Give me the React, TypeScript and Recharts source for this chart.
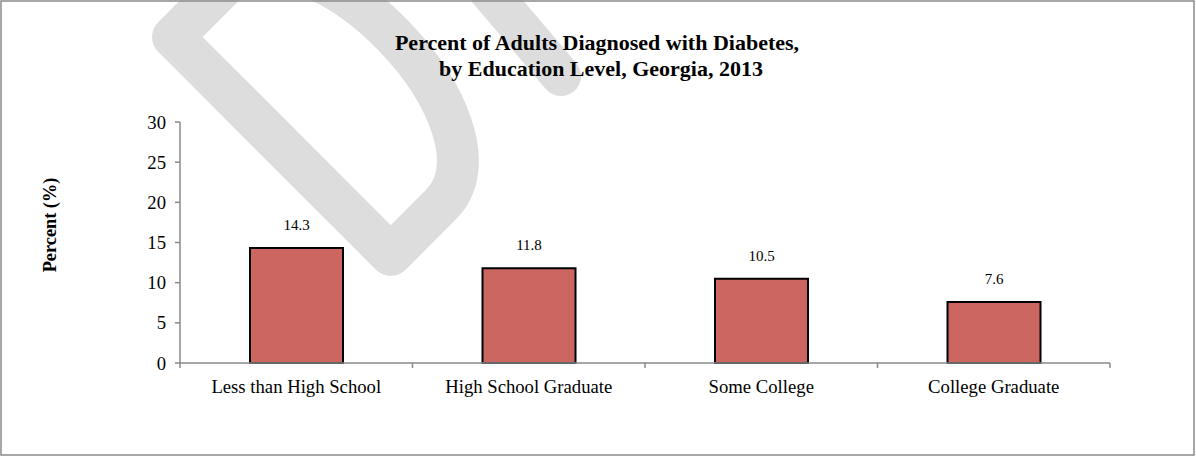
import React from "react";
import { BarChart, Bar, XAxis, YAxis, LabelList } from "recharts";

const categories = [
  "Less than High School",
  "High School Graduate",
  "Some College",
  "College Graduate",
];
const values = [14.3, 11.8, 10.5, 7.6];
const yTicks = [0, 5, 10, 15, 20, 25, 30];
const titleLines = [
  "Percent of Adults Diagnosed with Diabetes,",
  "by Education Level, Georgia, 2013",
];
const yLabel = "Percent (%)";

const data = categories.map((c, i) => ({ category: c, pos: i + 0.5, value: values[i] }));
const xTicks = [0, ...categories.flatMap((_, i) => [i + 0.5, i + 1])];

const FONT = "'Liberation Serif', 'Times New Roman', Times, serif";
const AXIS = "#8a8a8a";

const XTick = (props: any) => {
  const { x, y, payload } = props;
  const v = payload.value;
  if (Number.isInteger(v)) {
    return <line x1={x} y1={y} x2={x} y2={y + 5} stroke={AXIS} strokeWidth={1.5} />;
  }
  const label = categories[Math.floor(v)];
  return (
    <text x={x} y={y + 30} textAnchor="middle" fontFamily={FONT} fontSize={18.7} fill="#000">
      {label}
    </text>
  );
};

export default function App() {
  const W = 1196;
  const H = 457;
  return (
    <div style={{ position: "absolute", left: 0, top: 0, width: W, height: H, background: "#fff" }}>
      <svg width={W} height={H} style={{ position: "absolute", left: 0, top: 0 }}>
        <path
          d="M 390.8 254.8 L 173 37 L 222.5 -12.5 C 307.4 -97.4 520 127.5 440.3 205.3 Z"
          fill="none"
          stroke="#dddddd"
          strokeWidth={42}
          strokeLinejoin="round"
        />
        <line x1={488} y1={-10} x2={561} y2={76} stroke="#dddddd" strokeWidth={40} strokeLinecap="round" />
      </svg>
      <div style={{ position: "absolute", left: 0, top: 0 }}>
        <BarChart width={W} height={H} data={data} margin={{ top: 122, right: 86, bottom: 64, left: 120 }}>
          <XAxis
            dataKey="pos"
            type="number"
            domain={[0, categories.length]}
            ticks={xTicks}
            interval={0}
            height={30}
            axisLine={{ stroke: AXIS, strokeWidth: 1.5 }}
            tickLine={false}
            tickSize={0}
            tickMargin={0}
            tick={<XTick />}
          />
          <YAxis
            domain={[0, 30]}
            ticks={yTicks}
            interval={0}
            width={60}
            axisLine={{ stroke: AXIS, strokeWidth: 1.5 }}
            tickLine={{ stroke: AXIS, strokeWidth: 1.5 }}
            tickSize={5}
            tickMargin={9}
            tick={{ fontFamily: FONT, fontSize: 18.7, fill: "#000" }}
          />
          <Bar dataKey="value" fill="#cc6660" stroke="#000" strokeWidth={2} barSize={93} isAnimationActive={false}>
            <LabelList
              dataKey="value"
              position="top"
              offset={18}
              style={{ fontFamily: FONT, fontSize: 15, fill: "#000" }}
            />
          </Bar>
        </BarChart>
      </div>
      <svg width={W} height={H} style={{ position: "absolute", left: 0, top: 0, pointerEvents: "none" }}>
        <text x={597} y={50} textAnchor="middle" fontFamily={FONT} fontWeight="bold" fontSize={22} fill="#000">
          {titleLines[0]}
        </text>
        <text x={601} y={76} textAnchor="middle" fontFamily={FONT} fontWeight="bold" fontSize={22} fill="#000">
          {titleLines[1]}
        </text>
        <text
          x={56}
          y={225}
          textAnchor="middle"
          fontFamily={FONT}
          fontWeight="bold"
          fontSize={18.3}
          fill="#000"
          transform="rotate(-90 56 225)"
        >
          {yLabel}
        </text>
        <rect x={1} y={1} width={1193} height={454} fill="none" stroke="#8a8a8a" strokeWidth={1.5} />
      </svg>
    </div>
  );
}
